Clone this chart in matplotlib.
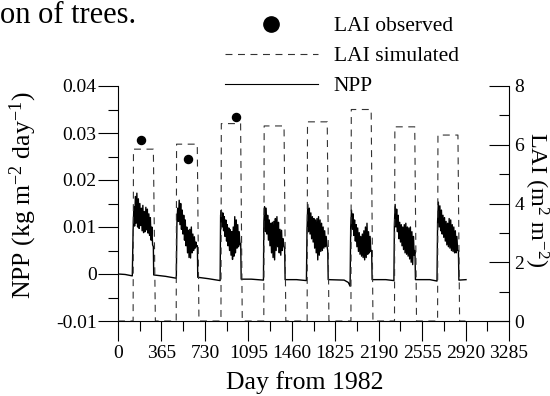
import numpy as np
import matplotlib
matplotlib.use("Agg")
import matplotlib.pyplot as plt
from matplotlib.lines import Line2D

plt.rcParams["font.family"] = ["Liberation Serif", "DejaVu Serif"]
plt.rcParams["mathtext.fontset"] = "custom"
plt.rcParams["mathtext.rm"] = "Liberation Serif"
plt.rcParams["mathtext.it"] = "Liberation Serif:italic"
plt.rcParams["axes.unicode_minus"] = False
plt.rcParams["lines.scale_dashes"] = False

# ---- data ----
# growing seasons: NPP rise / drop day, and readings (alternating upper/lower envelope)
season_start = [127, 495, 862, 1225, 1588, 1955, 2322, 2685]
season_end = [297, 667, 1031, 1400, 1762, 2131, 2495, 2860]
season_npp = [
    [0.0094, 0.0143, 0.0102, 0.0165, 0.0108, 0.0172, 0.0100, 0.0160, 0.0097, 0.0150, 0.0103, 0.0140, 0.0092, 0.0146,
     0.0088, 0.0133, 0.0090, 0.0142, 0.0094, 0.0138, 0.0087, 0.0128, 0.0082, 0.0120, 0.0072, 0.0100, 0.0062, 0.0058],
    [0.0108, 0.0140, 0.0112, 0.0157, 0.0105, 0.0150, 0.0095, 0.0136, 0.0085, 0.0125, 0.0072, 0.0115, 0.0060, 0.0100,
     0.0045, 0.0093, 0.0035, 0.0095, 0.0034, 0.0100, 0.0045, 0.0085, 0.0050, 0.0079, 0.0055, 0.0068, 0.0058, 0.0060],
    [0.0125, 0.0136, 0.0100, 0.0130, 0.0092, 0.0122, 0.0080, 0.0115, 0.0070, 0.0105, 0.0060, 0.0098, 0.0050, 0.0094,
     0.0040, 0.0090, 0.0031, 0.0100, 0.0038, 0.0122, 0.0045, 0.0115, 0.0055, 0.0105, 0.0058, 0.0090, 0.0062, 0.0065],
    [0.0108, 0.0143, 0.0090, 0.0140, 0.0085, 0.0125, 0.0072, 0.0115, 0.0060, 0.0108, 0.0045, 0.0110, 0.0035, 0.0112,
     0.0030, 0.0118, 0.0050, 0.0122, 0.0058, 0.0110, 0.0045, 0.0095, 0.0040, 0.0093, 0.0050, 0.0075, 0.0060, 0.0055],
    [0.0094, 0.0148, 0.0090, 0.0140, 0.0085, 0.0130, 0.0075, 0.0122, 0.0068, 0.0118, 0.0055, 0.0115, 0.0045, 0.0118,
     0.0030, 0.0122, 0.0040, 0.0115, 0.0048, 0.0108, 0.0050, 0.0100, 0.0055, 0.0092, 0.0058, 0.0080, 0.0060, 0.0050],
    [0.0100, 0.0136, 0.0095, 0.0128, 0.0082, 0.0115, 0.0070, 0.0105, 0.0058, 0.0098, 0.0048, 0.0088, 0.0042, 0.0080,
     0.0038, 0.0085, 0.0035, 0.0092, 0.0030, 0.0100, 0.0035, 0.0108, 0.0042, 0.0090, 0.0045, 0.0080, 0.0048, 0.0050],
    [0.0105, 0.0148, 0.0100, 0.0138, 0.0090, 0.0125, 0.0075, 0.0110, 0.0068, 0.0105, 0.0060, 0.0100, 0.0052, 0.0105,
     0.0045, 0.0108, 0.0042, 0.0100, 0.0038, 0.0098, 0.0032, 0.0100, 0.0025, 0.0090, 0.0020, 0.0080, 0.0040, 0.0050],
    [0.0110, 0.0153, 0.0100, 0.0145, 0.0092, 0.0136, 0.0085, 0.0125, 0.0078, 0.0120, 0.0070, 0.0112, 0.0062, 0.0108,
     0.0058, 0.0118, 0.0055, 0.0115, 0.0050, 0.0105, 0.0048, 0.0100, 0.0045, 0.0092, 0.0045, 0.0080, 0.0050, 0.0050],
]
# dormant-period NPP readings (day, value) before each season and after the last
winter_days = [
    [0, 60, 120],
    [300, 400, 490],
    [670, 760, 858],
    [1035, 1120, 1222],
    [1404, 1500, 1583],
    [1766, 1900, 1935, 1950],
    [2135, 2250, 2318],
    [2499, 2620, 2680],
    [2864, 2924],
]
winter_npp = [
    [0.0, -0.0001, -0.0004],
    [-0.0002, -0.0005, -0.0009],
    [-0.0007, -0.0010, -0.0014],
    [-0.0011, -0.0011, -0.0013],
    [-0.0012, -0.0012, -0.0014],
    [-0.0012, -0.0013, -0.0018, -0.0026],
    [-0.0012, -0.0012, -0.0014],
    [-0.0012, -0.0012, -0.0015],
    [-0.0013, -0.0012],
]

# simulated LAI: leaf-out day, plateau, start and end of leaf fall
lai_on = [130, 492, 868, 1228, 1592, 1960, 2326, 2688]
lai_off = [297, 666, 1030, 1395, 1758, 2127, 2493, 2856]
lai_gone = [314, 680, 1044, 1410, 1772, 2142, 2508, 2870]
lai_top = [5.85, 6.02, 6.72, 6.64, 6.78, 7.2, 6.61, 6.33]

obs_day = [193, 591, 989]
obs_lai = [6.16, 5.5, 6.93]

x_ticks = [0, 365, 730, 1095, 1460, 1825, 2190, 2555, 2920, 3285]
npp_ticks = [-0.01, 0, 0.01, 0.02, 0.03, 0.04]
npp_labels = ["-0.01", "0", "0.01", "0.02", "0.03", "0.04"]
lai_ticks = [0, 2, 4, 6, 8]

# ---- assemble series ----
days, npp = [], []
for i in range(len(season_start)):
    days += winter_days[i]
    npp += winter_npp[i]
    days += list(np.linspace(season_start[i], season_end[i], len(season_npp[i])))
    npp += season_npp[i]
days += winter_days[-1]
npp += winter_npp[-1]

lai_d, lai_v = [0], [0]
for a, b, c, top in zip(lai_on, lai_off, lai_gone, lai_top):
    lai_d += [a - 3, a, b, c]
    lai_v += [0, top, top, 0]
lai_d.append(2924)
lai_v.append(0)

# ---- figure ----
fig = plt.figure(figsize=(5.5, 3.96), dpi=100)
ax = fig.add_axes([118 / 550, 1 - 321 / 396, 391 / 550, 235 / 396])
ax2 = ax.twinx()

ax.plot(days, npp, color="black", lw=1.0, zorder=3)
ax2.plot(lai_d, lai_v, color="#333333", lw=0.8, dashes=(5, 4))
ax2.plot(obs_day, obs_lai, "o", color="black", ms=5.8, clip_on=False)

ax.set_xlim(0, 3285)
ax.set_ylim(-0.01, 0.04)
ax2.set_ylim(0, 8)

ax.set_xticks(x_ticks)
ax.set_xticks([t + 182.5 for t in x_ticks[:-1]], minor=True)
ax.set_yticks(npp_ticks)
ax.set_yticklabels(npp_labels)
ax.set_yticks([t + 0.005 for t in npp_ticks[:-1]], minor=True)
ax2.set_yticks(lai_ticks)
ax2.set_yticks([t + 1 for t in lai_ticks[:-1]], minor=True)

for a in (ax, ax2):
    a.spines["top"].set_visible(False)
    for s in a.spines.values():
        s.set_linewidth(0.8)
ax.spines["right"].set_visible(False)
for s in ("left", "bottom"):
    ax2.spines[s].set_visible(False)

ax.tick_params(which="major", direction="out", length=14.4, width=0.8, labelsize=14, pad=1)
ax.tick_params(which="minor", direction="out", length=7.2, width=0.8)
ax.tick_params(axis="x", which="major", pad=3)
ax2.tick_params(which="major", direction="in", length=14.4, width=0.8, labelsize=14, pad=4)
ax2.tick_params(which="minor", direction="in", length=7.2, width=0.8)

fig.text(305 / 550, 1 - 383 / 396, "Day from 1982", fontsize=18.5, ha="center", va="center")
fig.text(23 / 550, 1 - 195 / 396, "NPP (kg m$^{-2}$ day$^{-1}$)", fontsize=18.5,
         rotation=90, ha="center", va="center")
fig.text(536 / 550, 1 - 200 / 396, "LAI (m$^{2}$ m$^{-2}$)", fontsize=17.5,
         rotation=270, ha="center", va="center")

handles = [
    Line2D([], [], ls="none", marker="o", color="black", ms=11),
    Line2D([], [], color="#333333", lw=0.8, dashes=(5, 4)),
    Line2D([], [], color="black", lw=0.8),
]
fig.legend(handles, ["LAI observed", "LAI simulated", "NPP"], loc="upper left",
           bbox_to_anchor=(225 / 550, 1 - 16 / 396), frameon=False, fontsize=15.5,
           handlelength=4.3, handletextpad=0.75, labelspacing=0.47, borderpad=0, borderaxespad=0)

fig.text(0.0, 1 - 23 / 396, "on of trees.", fontsize=22, va="baseline", ha="left")

fig.savefig("out.png", dpi=100)
